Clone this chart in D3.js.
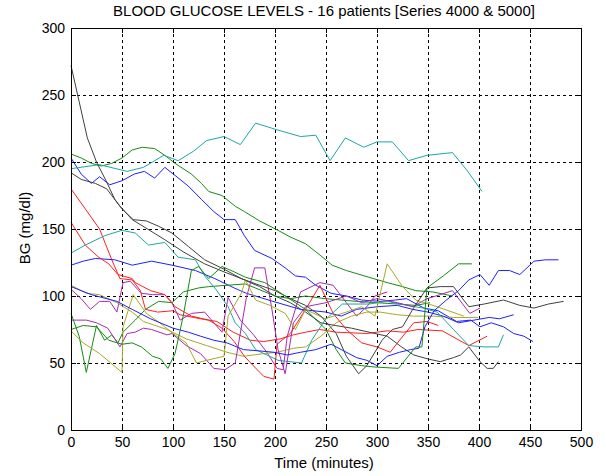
<!DOCTYPE html>
<html>
<head>
<meta charset="utf-8">
<script src="https://cdn.jsdelivr.net/npm/d3@7"></script>
<style>
  body { margin: 0; background: #fff; }
  text { font-family: "Liberation Sans", Arial, sans-serif; fill: #000; }
  .grid line { stroke: #000; stroke-dasharray: 3,3; shape-rendering: crispEdges; }
  .axis path, .axis line { stroke: #000; shape-rendering: crispEdges; }
  .axis text { font-size: 14px; font-family: "Liberation Sans", Arial, sans-serif; }
</style>
</head>
<body>
<div id="chart"></div>
<script>
// tick values
const xTicks = [0, 50, 100, 150, 200, 250, 300, 350, 400, 450, 500]
const yTicks = [0, 50, 100, 150, 200, 250, 300]

// each patient: [minutes, BG mg/dl]
const blue1 = [[0,203],[10,191],[20,184],[28,189],[38,183],[50,186],[62,191],[72,193],[82,188],[92,196],[102,190],[115,182],[128,172],[140,163],[150,157],[161,157],[170,145],[180,134],[197,128],[210,121],[220,115],[230,114],[240,108],[255,102],[270,100],[285,97],[303,96],[318,97],[329,98],[346,91],[360,89],[378,81],[392,82],[401,77],[412,80],[424,77],[434,72],[444,70],[453,66]]
const green1 = [[0,206],[10,203],[20,199],[30,197],[40,199],[50,203],[60,209],[70,211],[82,210],[92,205],[102,199],[118,191],[128,184],[135,178],[148,175],[161,167],[170,163],[185,156],[203,149],[215,144],[230,139],[245,130],[256,123],[270,119],[292,114],[310,110],[325,107],[338,104],[355,103],[374,100]]
const red1 = [[0,180],[14,165],[28,150],[40,127],[48,113],[60,112],[68,104],[73,90],[85,88],[100,89],[107,86],[127,83],[143,81],[159,73],[176,67],[189,66],[205,68],[218,71],[230,73],[244,75],[260,73],[290,72],[310,74],[326,73],[340,75],[364,74],[390,63],[408,70]]
const cyan1 = [[0,195],[28,198],[55,193],[71,196],[91,205],[105,201],[120,208],[133,216],[150,219],[166,213],[181,229],[202,224],[225,219],[240,220],[254,201],[269,218],[287,211],[300,215],[315,215],[331,201],[349,205],[374,207],[388,194],[403,178]]
const magenta1 = [[0,105],[10,98],[19,90],[28,96],[38,96],[45,88],[51,110],[58,111],[69,102],[80,101],[92,101],[99,95],[107,82],[118,87],[131,88],[148,73],[154,99],[166,82],[179,71],[192,58],[202,46],[208,45],[212,70],[225,103],[244,110],[257,108],[270,95],[280,85],[290,92],[298,100],[310,103]]
const olive1 = [[0,108],[15,102],[28,101],[45,95],[60,88],[71,81],[94,75],[113,68],[133,63],[153,58],[169,55],[189,57],[202,58],[218,61],[230,62],[245,70],[260,80],[275,85],[290,88],[303,88],[320,86],[336,85],[355,85],[375,84],[399,84]]
const black1 = [[0,272],[8,245],[16,218],[25,200],[35,185],[43,172],[50,165],[61,157],[74,156],[86,152],[99,147],[115,137],[131,127],[150,120],[167,113],[185,107],[200,100],[215,95],[230,88],[245,80],[259,78],[275,76],[298,72],[310,70],[324,62],[336,56],[350,53],[362,51],[375,54],[382,56],[390,62],[401,51],[408,46],[414,46],[419,51]]
const blue2 = [[0,123],[12,126],[24,128],[43,127],[60,123],[79,126],[99,123],[122,119],[141,113],[160,106],[172,102],[198,96],[225,90],[250,88],[265,85],[280,90],[300,92],[320,93],[335,90],[350,88],[365,85],[380,80],[395,82],[410,84],[420,83],[434,86]]
const green2 = [[0,87],[8,70],[15,43],[25,78],[33,67],[40,71],[46,65],[51,73],[63,82],[73,90],[86,96],[99,95],[110,103],[125,106],[135,107],[171,109],[200,100],[215,98],[230,100],[249,98],[265,97],[280,96],[300,95],[320,94],[338,93],[352,95]]
const red2 = [[0,155],[14,138],[27,129],[37,124],[46,116],[60,113],[63,110],[78,104],[92,101],[102,92],[118,85],[135,82],[148,76],[160,66],[170,55],[180,47],[189,40],[199,38],[202,64],[215,72],[230,90],[244,108],[252,95],[257,87],[270,75],[285,65],[300,62],[313,58],[320,65],[336,80],[349,81],[360,78]]
const cyan2 = [[0,132],[14,138],[33,145],[50,149],[63,147],[76,138],[92,140],[105,129],[122,127],[131,115],[142,105],[154,92],[161,80],[171,72],[181,60],[203,52],[226,50],[236,67],[249,82],[266,94],[292,94],[310,96],[330,93],[345,91],[359,88],[375,75],[390,63],[405,62],[419,62],[424,71]]
const magenta2 = [[0,82],[15,82],[25,80],[36,76],[48,62],[55,72],[63,73],[71,76],[79,75],[94,71],[99,72],[113,63],[127,57],[140,46],[151,45],[161,50],[172,99],[180,121],[190,121],[197,90],[203,60],[210,42],[218,80],[230,92],[250,95],[270,100],[285,95],[300,98],[320,95],[335,92],[349,98],[362,101],[374,104],[391,87],[401,91]]
const olive2 = [[0,74],[12,65],[28,57],[50,43],[51,77],[61,101],[74,87],[87,80],[100,72],[113,65],[123,50],[133,52],[150,55],[154,85],[167,102],[171,112],[181,97],[195,93],[210,87],[220,75],[230,90],[249,83],[270,88],[285,92],[298,85],[310,124],[325,107],[338,97],[359,92],[385,85]]
const black2 = [[0,192],[10,187],[24,184],[35,180],[48,167],[60,157],[75,150],[92,142],[110,133],[131,124],[150,118],[167,113],[185,108],[200,104],[215,98],[230,93],[245,85],[260,72],[270,55],[282,42],[290,48],[305,67],[315,75],[325,77],[335,90],[349,106],[362,107],[375,107],[390,92],[405,94],[424,97],[440,93],[454,91],[468,94],[483,96]]
const blue3 = [[0,107],[20,101],[45,96],[60,90],[78,83],[100,76],[115,73],[127,70],[140,67],[153,65],[169,60],[185,59],[199,58],[212,56],[225,58],[240,60],[255,64],[265,60],[280,54],[290,52],[300,48],[310,55],[322,58],[333,60],[341,61],[347,77],[356,89],[368,97],[380,104],[390,112],[401,116],[410,108],[419,119],[430,119],[440,116],[454,126],[465,127],[478,127]]
const green3 = [[0,75],[12,78],[25,77],[37,67],[50,64],[60,65],[69,62],[80,55],[88,53],[95,46],[102,57],[110,85],[118,119],[125,122],[135,113],[148,122],[160,118],[171,114],[190,110],[210,100],[230,90],[250,75],[260,60],[269,50],[285,48],[298,47],[321,46],[338,62],[344,62],[349,106],[365,115],[380,124],[393,124]]

const series = [blue1, green1, red1, cyan1, magenta1, olive1, black1, blue2, green2, red2, cyan2, magenta2, olive2, black2, blue3, green3]
const colors = ['#1f1fff', '#168a16', '#ff1f1f', '#1fa5a5', '#a82ab0', '#a8a82a', '#404040']

let margin = { top: 28, right: 25, bottom: 46, left: 71 }
let width = 606 - margin.left - margin.right
let height = 476 - margin.top - margin.bottom

let x = d3.scaleLinear().domain([0, 500]).range([0, width])
let y = d3.scaleLinear().domain([0, 300]).range([height, 0])

let svg = d3.select('#chart').append('svg')
    .attr('width', 606)
    .attr('height', 476)

let g = svg.append('g')
    .attr('transform', `translate(${margin.left},${margin.top})`)

// dashed grid
g.append('g').attr('class', 'grid')
    .selectAll('line').data(xTicks.slice(1, -1)).enter().append('line')
    .attr('x1', d => Math.round(x(d)) + 0.5).attr('x2', d => Math.round(x(d)) + 0.5)
    .attr('y1', 0).attr('y2', height)
g.append('g').attr('class', 'grid')
    .selectAll('line').data(yTicks.slice(1, -1)).enter().append('line')
    .attr('y1', d => Math.round(y(d)) + 0.5).attr('y2', d => Math.round(y(d)) + 0.5)
    .attr('x1', 0).attr('x2', width)

let line = d3.line()
    .x(d => x(d[0]))
    .y(d => y(d[1]))

g.selectAll('.patient')
    .data(series)
    .enter().append('path')
    .attr('class', 'patient')
    .attr('fill', 'none')
    .attr('stroke', (d, i) => colors[i % colors.length])
    .attr('stroke-width', 1)
    .attr('d', line)

// axes, ticks inward, box on
g.append('g').attr('class', 'axis')
    .attr('transform', `translate(0,${height})`)
    .call(d3.axisBottom(x).tickValues(xTicks).tickSizeInner(-5).tickSizeOuter(0).tickPadding(7))
g.append('g').attr('class', 'axis')
    .call(d3.axisLeft(y).tickValues(yTicks).tickSizeInner(-5).tickSizeOuter(0).tickPadding(6))
g.append('g').attr('class', 'axis')
    .call(d3.axisTop(x).tickValues(xTicks).tickSizeInner(-5).tickSizeOuter(0).tickFormat(''))
g.append('g').attr('class', 'axis')
    .attr('transform', `translate(${width},0)`)
    .call(d3.axisRight(y).tickValues(yTicks).tickSizeInner(-5).tickSizeOuter(0).tickFormat(''))

g.append('rect')
    .attr('x', 0.5).attr('y', 0.5)
    .attr('width', width).attr('height', height)
    .attr('fill', 'none').attr('stroke', '#000')
    .attr('shape-rendering', 'crispEdges')

svg.append('text')
    .attr('x', 324).attr('y', 16)
    .attr('text-anchor', 'middle').attr('font-size', 15)
    .attr('fill', '#10104a')
    .text('BLOOD GLUCOSE LEVELS - 16 patients [Series 4000 & 5000]')

svg.append('text')
    .attr('x', 324).attr('y', 468)
    .attr('text-anchor', 'middle').attr('font-size', 15)
    .text('Time (minutes)')

svg.append('text')
    .attr('transform', 'translate(30,228) rotate(-90)')
    .attr('text-anchor', 'middle').attr('font-size', 15)
    .text('BG (mg/dl)')
</script>
</body>
</html>
